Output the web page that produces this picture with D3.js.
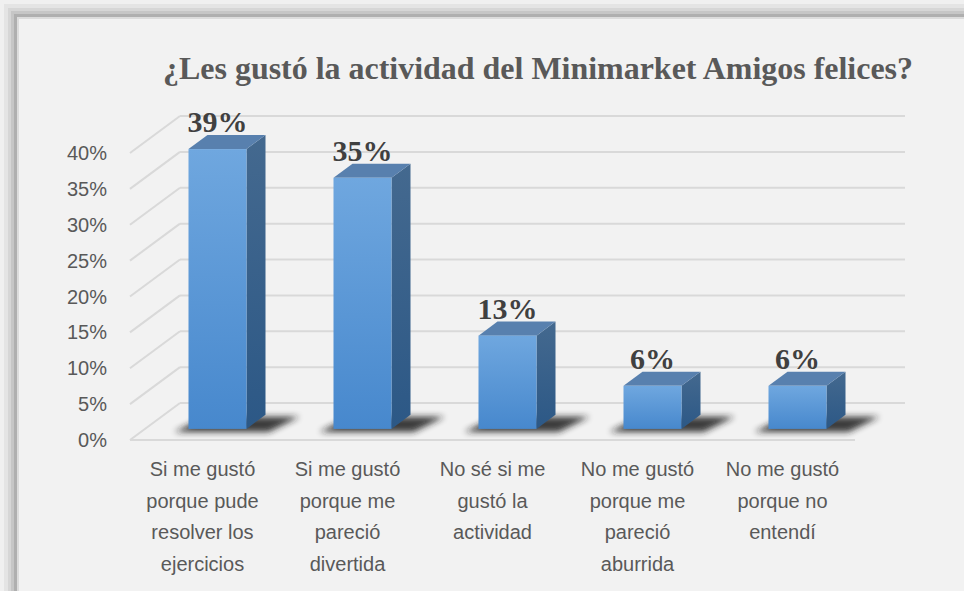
<!DOCTYPE html>
<html>
<head>
<meta charset="utf-8">
<script src="https://cdn.jsdelivr.net/npm/d3@7"></script>
<style>
  body { margin: 0; background: #f2f2f2; }
  svg { display: block; }
</style>
</head>
<body>
<div id="chart"></div>
<script>
// chart data
var categories = [
  ["Si me gustó", "porque pude", "resolver los", "ejercicios"],
  ["Si me gustó", "porque me", "pareció", "divertida"],
  ["No sé si me", "gustó la", "actividad"],
  ["No me gustó", "porque me", "pareció", "aburrida"],
  ["No me gustó", "porque no", "entendí"]
];
var values = [0.39, 0.35, 0.13, 0.06, 0.06];
var valueLabels = ["39%", "35%", "13%", "6%", "6%"];
var yTicks = [0, 0.05, 0.10, 0.15, 0.20, 0.25, 0.30, 0.35, 0.40];
var title = "¿Les gustó la actividad del Minimarket Amigos felices?";

var width = 964, height = 591;

// 3d depth of the plot (offset of the back wall)
var depth = {dx: 50, dy: -37};
var barZ = [0.3, 0.68];

var svg = d3.select("#chart")
  .append("svg")
    .attr("width", width)
    .attr("height", height);

var defs = svg.append("defs");

var grad = defs.append("linearGradient")
    .attr("id", "front").attr("x1", 0).attr("y1", 0).attr("x2", 0).attr("y2", 1);
grad.append("stop").attr("offset", "0%").attr("stop-color", "#6fa7df");
grad.append("stop").attr("offset", "100%").attr("stop-color", "#4788cd");

var gradSide = defs.append("linearGradient")
    .attr("id", "side").attr("x1", 0).attr("y1", 0).attr("x2", 0).attr("y2", 1);
gradSide.append("stop").attr("offset", "0%").attr("stop-color", "#44698f");
gradSide.append("stop").attr("offset", "100%").attr("stop-color", "#2c5886");

defs.append("filter").attr("id", "blur")
    .attr("x", "-50%").attr("y", "-100%").attr("width", "200%").attr("height", "300%")
  .append("feGaussianBlur").attr("stdDeviation", 3);

// frame shadow at top / left
var frame = [
  {o: 0, c: "#f0f0f0"}, {o: 4, c: "#e4e4e4"}, {o: 8, c: "#d6d6d6"},
  {o: 11, c: "#c6c6c6"}, {o: 14, c: "#afafaf"}, {o: 17, c: "#dcdcdc"}
];
frame.forEach(function(f) {
  svg.append("rect").attr("x", f.o).attr("y", f.o)
    .attr("width", width - f.o).attr("height", height - f.o)
    .attr("fill", f.c);
});
svg.append("rect").attr("x", 19).attr("y", 19)
  .attr("width", width - 19).attr("height", height - 19)
  .attr("fill", "#f2f2f2");

// scales (front plane)
var x = d3.scaleBand()
    .domain(d3.range(values.length))
    .range([130, 855])
    .paddingInner(0).paddingOuter(0);

var y = d3.scaleLinear()
    .domain([0, 0.4])
    .range([440, 153]);

var gridColor = "#d9d9d9";

// back wall gridlines + left wall diagonals
yTicks.forEach(function(t) {
  svg.append("line")
    .attr("x1", x.range()[0] + depth.dx).attr("x2", x.range()[1] + depth.dx)
    .attr("y1", y(t) + depth.dy).attr("y2", y(t) + depth.dy)
    .attr("stroke", gridColor).attr("stroke-width", 2);
  svg.append("line")
    .attr("x1", x.range()[0]).attr("x2", x.range()[0] + depth.dx)
    .attr("y1", y(t)).attr("y2", y(t) + depth.dy)
    .attr("stroke", gridColor).attr("stroke-width", 2);
});
// floor front edge
svg.append("line")
  .attr("x1", x.range()[0]).attr("x2", x.range()[1])
  .attr("y1", y(0)).attr("y2", y(0))
  .attr("stroke", gridColor).attr("stroke-width", 2);

// y axis labels
svg.selectAll(".ytick").data(yTicks).enter().append("text")
  .attr("class", "ytick")
  .attr("x", 107)
  .attr("y", function(d) { return y(d) + 7; })
  .attr("text-anchor", "end")
  .attr("font-family", "Liberation Sans, Arial, sans-serif")
  .attr("font-size", "20px")
  .attr("fill", "#595959")
  .text(function(d) { return d3.format(".0%")(d); });

// bars
var bw = x.bandwidth() * 0.4;
var ddx = (barZ[1] - barZ[0]) * depth.dx, ddy = (barZ[1] - barZ[0]) * depth.dy;

values.forEach(function(v, i) {
  var X = x(i) + (x.bandwidth() - bw) / 2 + barZ[0] * depth.dx;
  var Yt = y(v) + barZ[0] * depth.dy;
  var Yb = y(0) + barZ[0] * depth.dy;
  var g = svg.append("g");

  // shadow on the floor
  g.append("polygon")
    .attr("points", [
      [X - 14, Yb + 3], [X + bw + 22, Yb + 3],
      [X + bw + ddx + 34, Yb + ddy + 2], [X + ddx - 2, Yb + ddy + 2]
    ].join(" "))
    .attr("fill", "#1a1a1a").attr("opacity", 0.85)
    .attr("filter", "url(#blur)");

  // side face
  g.append("polygon")
    .attr("points", [
      [X + bw, Yt], [X + bw + ddx, Yt + ddy],
      [X + bw + ddx, Yb + ddy], [X + bw, Yb]
    ].join(" "))
    .attr("fill", "url(#side)");

  // top face
  g.append("polygon")
    .attr("points", [
      [X, Yt], [X + bw, Yt], [X + bw + ddx, Yt + ddy], [X + ddx, Yt + ddy]
    ].join(" "))
    .attr("fill", "#5880ae");

  // front face
  g.append("rect")
    .attr("x", X).attr("y", Yt)
    .attr("width", bw).attr("height", Yb - Yt)
    .attr("fill", "url(#front)");

  // value label
  g.append("text")
    .attr("x", X + bw / 2)
    .attr("y", Yt + ddy - 3)
    .attr("text-anchor", "middle")
    .attr("font-family", "Liberation Serif, Times New Roman, serif")
    .attr("font-weight", "bold")
    .attr("font-size", "30px")
    .attr("fill", "#404040")
    .text(valueLabels[i]);
});

// category labels
categories.forEach(function(lines, i) {
  var t = svg.append("text")
    .attr("x", x(i) + x.bandwidth() / 2)
    .attr("y", 476)
    .attr("text-anchor", "middle")
    .attr("font-family", "Liberation Sans, Arial, sans-serif")
    .attr("font-size", "20px")
    .attr("fill", "#595959");
  lines.forEach(function(l, j) {
    t.append("tspan")
      .attr("x", x(i) + x.bandwidth() / 2)
      .attr("dy", j === 0 ? 0 : 31.5)
      .text(l);
  });
});

// title
svg.append("text")
  .attr("x", 538)
  .attr("y", 79)
  .attr("text-anchor", "middle")
  .attr("font-family", "Liberation Serif, Times New Roman, serif")
  .attr("font-weight", "bold")
  .attr("font-size", "31px")
  .attr("textLength", 750)
  .attr("lengthAdjust", "spacingAndGlyphs")
  .attr("fill", "#595959")
  .text(title);
</script>
</body>
</html>
